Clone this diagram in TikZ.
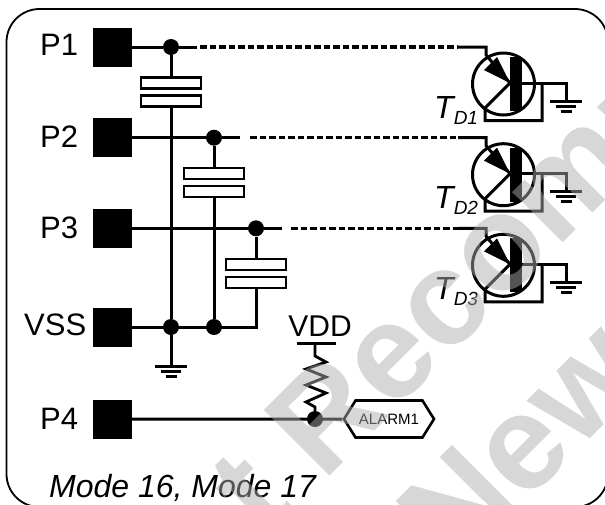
\documentclass[tikz,border=0pt]{standalone}
\usepackage{fontspec}
\setmainfont{Liberation Sans}
\usetikzlibrary{shapes.symbols}
\tikzset{
	wire/.style={line width=3pt},
	pad/.style={fill=black,minimum size=39pt,inner sep=0pt},
	junction/.style={circle,fill=black,minimum size=16pt,inner sep=0pt},
	plate/.style={draw,line width=2.8pt,minimum width=60pt,minimum height=11pt,inner sep=0pt},
	padlabel/.style={anchor=west,font=\fontsize{31}{31}\selectfont,inner sep=0pt},
	dotwire/.style={line width=3.4pt,dash pattern=on 6.5pt off 3pt},
	mark text/.style={anchor=base west,font=\fontsize{135}{135}\selectfont\bfseries,text=black!32,text opacity=0.49,rotate=45,inner sep=0pt}
}
\newcommand{\groundsym}[1]{
	\draw[wire] (#1) ++(-16,0) -- ++(32,0);
	\draw[wire] (#1) ++(-10,5) -- ++(20,0);
	\draw[wire] (#1) ++(-5.5,10) -- ++(11,0);
}
\begin{document}
\begin{tikzpicture}[x=1pt,y=-1pt]
	\useasboundingbox (0,0) rectangle (605,504);
	\clip (0,0) rectangle (605,504);
	
	% frame
	\draw[line width=1.8pt,rounded corners=33pt] (6.5,9) rectangle (608,507);
	
	% pads
	\foreach \name/\y in {p1/47,p2/137.7,p3/228.3,vss/327,p4/419}{
		\node[pad] (\name) at (112.5,\y) {};
	}
	\node[padlabel] (lp1) at (40,45) {P1};
	\node[padlabel] (lp2) at (40,136.5) {P2};
	\node[padlabel] (lp3) at (40,227.5) {P3};
	\node[padlabel] (lvss) at (24,325) {VSS};
	\node[padlabel] (lp4) at (40,419) {P4};
	
	% junctions
	\node[junction] (j1) at (171,47) {};
	\node[junction] (j2) at (214,137.7) {};
	\node[junction] (j3) at (256,228.3) {};
	\node[junction] (v1) at (171,327) {};
	\node[junction] (v2) at (214,327) {};
	\coordinate (v3) at (256,327);
	
	% capacitors
	\foreach \i/\x/\y in {1/171/83,2/214/173.5,3/256/264.5}{
		\node[plate] (c\i a) at (\x,\y) {};
		\node[plate] (c\i b) at (\x,\y+18) {};
	}
	
	\draw[wire] (p1) -- (j1);
	\draw[wire] (p2) -- (j2);
	\draw[wire] (p3) -- (j3);
	\draw[wire] (j1) -- (c1a);
	\draw[wire] (j2) -- (c2a);
	\draw[wire] (j3) -- (c3a);
	\draw[wire] (c1b) -- (v1);
	\draw[wire] (c2b) -- (v2);
	\draw[wire] (c3b) -- (v3) -- (vss);
	
	% ground of VSS
	\coordinate (g0) at (171,366);
	\draw[wire] (v1) -- (g0);
	\groundsym{g0}
	
	% transistors
	\foreach \i/\d/\xs/\xe in {1/0/197/200,2/90.7/240/250,3/181.3/282/291}{
		\begin{scope}[shift={(0,\d)}]
			\coordinate (s\i) at (\xs,47);
			\coordinate (e\i) at (\xe,47);
			\coordinate (d\i) at (458,47);
			\coordinate (k\i) at (486,47);
			\coordinate (b\i) at (510,83);
			\coordinate (f\i) at (485,108);
			\coordinate (r\i) at (566,83);
			\coordinate (g\i) at (566,101);
			\node[circle,draw,line width=3pt,minimum size=62pt,inner sep=0pt] (t\i) at (503.5,84) {};
			\node[fill=black,minimum width=12pt,minimum height=54pt,inner sep=0pt] (bar\i) at (516,84) {};
			\draw[wire] (j\i) -- (s\i);
			\draw[dotwire] (e\i) -- (d\i);
			\draw[wire] (d\i) -- (k\i) -- (486,55) -- (b\i);
			\fill (b\i) -- (497,57) -- (484,70) -- cycle;
			\draw[wire] (b\i) -- (f\i) -- (485,120.5) -- (542,120.5) -- (542,83);
			\draw[wire] (bar\i.east |- r\i) -- (r\i) -- (g\i);
			\groundsym{g\i}
			\node[inner sep=0pt,anchor=base west,font=\fontsize{32}{32}\selectfont\itshape] (td\i) at (434,118) {T\raisebox{-6pt}{\fontsize{19}{19}\selectfont D\i}};
		\end{scope}
	}
	
	% pull-up
	\node[junction] (j4) at (315,419) {};
	\node[inner sep=0pt,font=\fontsize{30}{30}\selectfont] (vdd) at (320,326) {VDD};
	\coordinate (rail) at (315,343);
	\draw[line width=3pt] (296.5,343) -- (336,343);
	\draw[line width=2.8pt] (rail) -- (315,356) -- (326,362) -- (306,369) -- (326,377) -- (306,385) -- (326,393) -- (306,402) -- (315,407) -- (j4);
	
	\node[shape=signal,signal to=east and west,signal pointer angle=116,draw,line width=2.6pt,minimum width=90pt,minimum height=37pt,inner sep=0pt,font=\fontsize{15}{15}\selectfont] (alarm) at (389,419) {ALARM1};
	\draw[wire] (p4) -- (alarm);
	
	\node[inner sep=0pt,anchor=base west,font=\fontsize{32}{32}\selectfont\itshape] (mode) at (49,497) {Mode 16, Mode 17};
	
	\node[mark text] (wm1) at (265,541) {t Recomm};
	\node[mark text] (wm2) at (455,574) {New};
\end{tikzpicture}
\end{document}
